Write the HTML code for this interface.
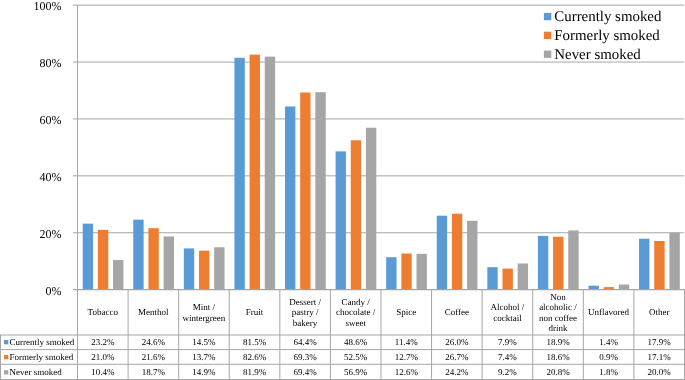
<!DOCTYPE html><html><head><meta charset="utf-8"><style>html,body{margin:0;padding:0;background:#fff;}svg{display:block;}#w{width:685px;height:380px;will-change:transform;}text{text-rendering:geometricPrecision;font-family:"Liberation Serif",serif;fill:#000;}</style></head><body>
<div id="w"><svg width="685" height="380" viewBox="0 0 685 380">
<g>
<rect width="685" height="380" fill="#fff"/>
<line x1="73" x2="684" y1="289.65" y2="289.65" stroke="#A6A6A6" stroke-width="1"/>
<text x="61.6" y="294.75" font-size="12" text-anchor="end">0%</text>
<line x1="73" x2="684" y1="232.75" y2="232.75" stroke="#A6A6A6" stroke-width="1"/>
<text x="61.6" y="237.85" font-size="12" text-anchor="end">20%</text>
<line x1="73" x2="684" y1="175.85" y2="175.85" stroke="#A6A6A6" stroke-width="1"/>
<text x="61.6" y="180.95" font-size="12" text-anchor="end">40%</text>
<line x1="73" x2="684" y1="118.95" y2="118.95" stroke="#A6A6A6" stroke-width="1"/>
<text x="61.6" y="124.05" font-size="12" text-anchor="end">60%</text>
<line x1="73" x2="684" y1="62.05" y2="62.05" stroke="#A6A6A6" stroke-width="1"/>
<text x="61.6" y="67.15" font-size="12" text-anchor="end">80%</text>
<line x1="73" x2="684" y1="5.15" y2="5.15" stroke="#A6A6A6" stroke-width="1"/>
<text x="61.6" y="10.25" font-size="12" text-anchor="end">100%</text>
<rect x="82.68" y="223.65" width="10.37" height="66.00" fill="#5B9BD5"/>
<rect x="97.85" y="229.90" width="10.37" height="59.75" fill="#ED7D31"/>
<rect x="113.03" y="260.06" width="10.37" height="29.59" fill="#A5A5A5"/>
<rect x="133.26" y="219.66" width="10.37" height="69.99" fill="#5B9BD5"/>
<rect x="148.43" y="228.20" width="10.37" height="61.45" fill="#ED7D31"/>
<rect x="163.61" y="236.45" width="10.37" height="53.20" fill="#A5A5A5"/>
<rect x="183.84" y="248.40" width="10.37" height="41.25" fill="#5B9BD5"/>
<rect x="199.01" y="250.67" width="10.37" height="38.98" fill="#ED7D31"/>
<rect x="214.19" y="247.26" width="10.37" height="42.39" fill="#A5A5A5"/>
<rect x="234.42" y="57.78" width="10.37" height="231.87" fill="#5B9BD5"/>
<rect x="249.59" y="54.65" width="10.37" height="235.00" fill="#ED7D31"/>
<rect x="264.77" y="56.64" width="10.37" height="233.01" fill="#A5A5A5"/>
<rect x="285.00" y="106.43" width="10.37" height="183.22" fill="#5B9BD5"/>
<rect x="300.17" y="92.49" width="10.37" height="197.16" fill="#ED7D31"/>
<rect x="315.35" y="92.21" width="10.37" height="197.44" fill="#A5A5A5"/>
<rect x="335.58" y="151.38" width="10.37" height="138.27" fill="#5B9BD5"/>
<rect x="350.75" y="140.29" width="10.37" height="149.36" fill="#ED7D31"/>
<rect x="365.93" y="127.77" width="10.37" height="161.88" fill="#A5A5A5"/>
<rect x="386.16" y="257.22" width="10.37" height="32.43" fill="#5B9BD5"/>
<rect x="401.33" y="253.52" width="10.37" height="36.13" fill="#ED7D31"/>
<rect x="416.51" y="253.80" width="10.37" height="35.85" fill="#A5A5A5"/>
<rect x="436.74" y="215.68" width="10.37" height="73.97" fill="#5B9BD5"/>
<rect x="451.91" y="213.69" width="10.37" height="75.96" fill="#ED7D31"/>
<rect x="467.09" y="220.80" width="10.37" height="68.85" fill="#A5A5A5"/>
<rect x="487.32" y="267.17" width="10.37" height="22.48" fill="#5B9BD5"/>
<rect x="502.49" y="268.60" width="10.37" height="21.05" fill="#ED7D31"/>
<rect x="517.67" y="263.48" width="10.37" height="26.17" fill="#A5A5A5"/>
<rect x="537.90" y="235.88" width="10.37" height="53.77" fill="#5B9BD5"/>
<rect x="553.07" y="236.73" width="10.37" height="52.92" fill="#ED7D31"/>
<rect x="568.25" y="230.47" width="10.37" height="59.18" fill="#A5A5A5"/>
<rect x="588.48" y="285.67" width="10.37" height="3.98" fill="#5B9BD5"/>
<rect x="603.65" y="287.09" width="10.37" height="2.56" fill="#ED7D31"/>
<rect x="618.83" y="284.53" width="10.37" height="5.12" fill="#A5A5A5"/>
<rect x="639.06" y="238.72" width="10.37" height="50.93" fill="#5B9BD5"/>
<rect x="654.23" y="241.00" width="10.37" height="48.65" fill="#ED7D31"/>
<rect x="669.41" y="232.75" width="10.37" height="56.90" fill="#A5A5A5"/>
<line x1="73" x2="685" y1="289.65" y2="289.65" stroke="#A6A6A6" stroke-width="1"/>
<line x1="77.50" x2="77.50" y1="5" y2="380" stroke="#A6A6A6" stroke-width="1"/>
<line x1="128.08" x2="128.08" y1="289.65" y2="380" stroke="#A6A6A6" stroke-width="1"/>
<line x1="178.66" x2="178.66" y1="289.65" y2="380" stroke="#A6A6A6" stroke-width="1"/>
<line x1="229.24" x2="229.24" y1="289.65" y2="380" stroke="#A6A6A6" stroke-width="1"/>
<line x1="279.82" x2="279.82" y1="289.65" y2="380" stroke="#A6A6A6" stroke-width="1"/>
<line x1="330.40" x2="330.40" y1="289.65" y2="380" stroke="#A6A6A6" stroke-width="1"/>
<line x1="380.98" x2="380.98" y1="289.65" y2="380" stroke="#A6A6A6" stroke-width="1"/>
<line x1="431.56" x2="431.56" y1="289.65" y2="380" stroke="#A6A6A6" stroke-width="1"/>
<line x1="482.14" x2="482.14" y1="289.65" y2="380" stroke="#A6A6A6" stroke-width="1"/>
<line x1="532.72" x2="532.72" y1="289.65" y2="380" stroke="#A6A6A6" stroke-width="1"/>
<line x1="583.30" x2="583.30" y1="289.65" y2="380" stroke="#A6A6A6" stroke-width="1"/>
<line x1="633.88" x2="633.88" y1="289.65" y2="380" stroke="#A6A6A6" stroke-width="1"/>
<line x1="684.50" x2="684.50" y1="289.65" y2="380" stroke="#A6A6A6" stroke-width="1"/>
<line x1="0.5" x2="0.5" y1="335.00" y2="380" stroke="#A6A6A6" stroke-width="1"/>
<line x1="0" x2="685" y1="335.00" y2="335.00" stroke="#A6A6A6" stroke-width="1"/>
<line x1="0" x2="685" y1="349.60" y2="349.60" stroke="#A6A6A6" stroke-width="1"/>
<line x1="0" x2="685" y1="364.30" y2="364.30" stroke="#A6A6A6" stroke-width="1"/>
<line x1="0" x2="685" y1="379.50" y2="379.50" stroke="#A6A6A6" stroke-width="1"/>
<text x="102.79" y="315.38" font-size="9" text-anchor="middle">Tobacco</text>
<text x="153.37" y="315.38" font-size="9" text-anchor="middle">Menthol</text>
<text x="203.95" y="310.12" font-size="9" text-anchor="middle">Mint /</text>
<text x="203.95" y="320.62" font-size="9" text-anchor="middle">wintergreen</text>
<text x="254.53" y="315.38" font-size="9" text-anchor="middle">Fruit</text>
<text x="305.11" y="304.88" font-size="9" text-anchor="middle">Dessert /</text>
<text x="305.11" y="315.38" font-size="9" text-anchor="middle">pastry /</text>
<text x="305.11" y="325.88" font-size="9" text-anchor="middle">bakery</text>
<text x="355.69" y="304.88" font-size="9" text-anchor="middle">Candy /</text>
<text x="355.69" y="315.38" font-size="9" text-anchor="middle">chocolate /</text>
<text x="355.69" y="325.88" font-size="9" text-anchor="middle">sweet</text>
<text x="406.27" y="315.38" font-size="9" text-anchor="middle">Spice</text>
<text x="456.85" y="315.38" font-size="9" text-anchor="middle">Coffee</text>
<text x="507.43" y="310.12" font-size="9" text-anchor="middle">Alcohol /</text>
<text x="507.43" y="320.62" font-size="9" text-anchor="middle">cocktail</text>
<text x="558.01" y="299.62" font-size="9" text-anchor="middle">Non</text>
<text x="558.01" y="310.12" font-size="9" text-anchor="middle">alcoholic /</text>
<text x="558.01" y="320.62" font-size="9" text-anchor="middle">non coffee</text>
<text x="558.01" y="331.12" font-size="9" text-anchor="middle">drink</text>
<text x="608.59" y="315.38" font-size="9" text-anchor="middle">Unflavored</text>
<text x="659.17" y="315.38" font-size="9" text-anchor="middle">Other</text>
<rect x="4" y="340.00" width="4.3" height="4.3" fill="#5B9BD5"/>
<text x="9.6" y="345.00" font-size="9">Currently smoked</text>
<text x="102.79" y="345.00" font-size="9" text-anchor="middle">23.2%</text>
<text x="153.37" y="345.00" font-size="9" text-anchor="middle">24.6%</text>
<text x="203.95" y="345.00" font-size="9" text-anchor="middle">14.5%</text>
<text x="254.53" y="345.00" font-size="9" text-anchor="middle">81.5%</text>
<text x="305.11" y="345.00" font-size="9" text-anchor="middle">64.4%</text>
<text x="355.69" y="345.00" font-size="9" text-anchor="middle">48.6%</text>
<text x="406.27" y="345.00" font-size="9" text-anchor="middle">11.4%</text>
<text x="456.85" y="345.00" font-size="9" text-anchor="middle">26.0%</text>
<text x="507.43" y="345.00" font-size="9" text-anchor="middle">7.9%</text>
<text x="558.01" y="345.00" font-size="9" text-anchor="middle">18.9%</text>
<text x="608.59" y="345.00" font-size="9" text-anchor="middle">1.4%</text>
<text x="659.17" y="345.00" font-size="9" text-anchor="middle">17.9%</text>
<rect x="4" y="355.00" width="4.3" height="4.3" fill="#ED7D31"/>
<text x="9.6" y="360.10" font-size="9">Formerly smoked</text>
<text x="102.79" y="360.10" font-size="9" text-anchor="middle">21.0%</text>
<text x="153.37" y="360.10" font-size="9" text-anchor="middle">21.6%</text>
<text x="203.95" y="360.10" font-size="9" text-anchor="middle">13.7%</text>
<text x="254.53" y="360.10" font-size="9" text-anchor="middle">82.6%</text>
<text x="305.11" y="360.10" font-size="9" text-anchor="middle">69.3%</text>
<text x="355.69" y="360.10" font-size="9" text-anchor="middle">52.5%</text>
<text x="406.27" y="360.10" font-size="9" text-anchor="middle">12.7%</text>
<text x="456.85" y="360.10" font-size="9" text-anchor="middle">26.7%</text>
<text x="507.43" y="360.10" font-size="9" text-anchor="middle">7.4%</text>
<text x="558.01" y="360.10" font-size="9" text-anchor="middle">18.6%</text>
<text x="608.59" y="360.10" font-size="9" text-anchor="middle">0.9%</text>
<text x="659.17" y="360.10" font-size="9" text-anchor="middle">17.1%</text>
<rect x="4" y="370.20" width="4.3" height="4.3" fill="#A5A5A5"/>
<text x="9.6" y="375.10" font-size="9">Never smoked</text>
<text x="102.79" y="375.10" font-size="9" text-anchor="middle">10.4%</text>
<text x="153.37" y="375.10" font-size="9" text-anchor="middle">18.7%</text>
<text x="203.95" y="375.10" font-size="9" text-anchor="middle">14.9%</text>
<text x="254.53" y="375.10" font-size="9" text-anchor="middle">81.9%</text>
<text x="305.11" y="375.10" font-size="9" text-anchor="middle">69.4%</text>
<text x="355.69" y="375.10" font-size="9" text-anchor="middle">56.9%</text>
<text x="406.27" y="375.10" font-size="9" text-anchor="middle">12.6%</text>
<text x="456.85" y="375.10" font-size="9" text-anchor="middle">24.2%</text>
<text x="507.43" y="375.10" font-size="9" text-anchor="middle">9.2%</text>
<text x="558.01" y="375.10" font-size="9" text-anchor="middle">20.8%</text>
<text x="608.59" y="375.10" font-size="9" text-anchor="middle">1.8%</text>
<text x="659.17" y="375.10" font-size="9" text-anchor="middle">20.0%</text>
<rect x="543.9" y="12.90" width="7.4" height="7.3" fill="#5B9BD5"/>
<text x="554.3" y="21.10" font-size="14.9">Currently smoked</text>
<rect x="543.9" y="31.70" width="7.4" height="7.3" fill="#ED7D31"/>
<text x="554.3" y="39.90" font-size="14.9">Formerly smoked</text>
<rect x="543.9" y="50.60" width="7.4" height="7.3" fill="#A5A5A5"/>
<text x="554.3" y="58.80" font-size="14.9">Never smoked</text>
</g></svg></div></body></html>
